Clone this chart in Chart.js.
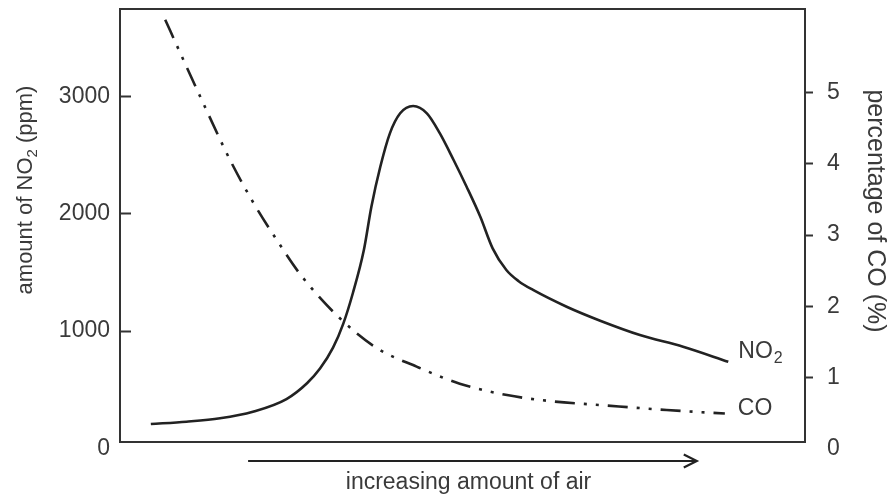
<!DOCTYPE html>
<html><head><meta charset="utf-8">
<script src="https://cdn.jsdelivr.net/npm/chart.js@4"></script>
<style>html,body{margin:0;padding:0;background:#fff}</style>
</head><body>
<canvas id="c" width="890" height="500"></canvas>
<script>
// ---- data (x = relative amount of air, 0-100) ----
const no2X = [4.5, 9.7, 14.6, 19.4, 24.3, 27.3, 29.2, 31.1, 32.6, 34.0, 35.6, 36.7, 38.0, 39.4, 40.9, 42.8, 44.8, 46.7, 48.7, 50.6, 52.6, 54.4, 56.4, 58.2, 60.3, 65.2, 70.1, 75.9, 82.2, 88.8];
const no2Y = [207, 227, 256, 312, 420, 555, 680, 858, 1063, 1324, 1690, 2060, 2400, 2685, 2856, 2918, 2856, 2685, 2458, 2230, 1974, 1705, 1520, 1425, 1350, 1207, 1088, 966, 866, 738];
const coX = [6.6, 8.8, 11.7, 16.1, 19.5, 22.9, 26.3, 32.1, 37.5, 43.3, 49.6, 56.5, 63.3, 70.1, 79.8, 88.3];
const coY = [6.03, 5.56, 4.95, 4.05, 3.45, 2.93, 2.45, 1.83, 1.41, 1.15, 0.91, 0.75, 0.66, 0.61, 0.54, 0.49];

const no2Ticks = [0, 1000, 2000, 3000];
const coTicks = [0, 1, 2, 3, 4, 5];
const no2Range = [54, 3745];
const coRange = [0.09, 6.18];
const xRange = [0, 100];
const arrowRange = [18.7, 84.2];

const seriesLabel = { no2: ['NO', '2'], co: ['CO', ''] };
const leftTitle = ['amount of NO', '2', ' (ppm)'];
const rightTitle = ['percentage of CO (%)', '', ''];
const xTitle = 'increasing amount of air';

const TEXT = '#3a3a3a', LINE = '#222', AXIS = '#333';
const FONT = '"Liberation Sans", Arial, Helvetica, sans-serif';

function drawParts(ctx, parts, size, cx, cy, rot, baseOff) {
  ctx.save();
  ctx.translate(cx, cy);
  ctx.rotate(rot);
  ctx.textBaseline = 'alphabetic';
  ctx.textAlign = 'left';
  const sub = Math.round(size * 0.68);
  ctx.font = size + 'px ' + FONT; const w0 = ctx.measureText(parts[0]).width; const w2 = ctx.measureText(parts[2]).width;
  ctx.font = sub + 'px ' + FONT; const w1 = parts[1] ? ctx.measureText(parts[1]).width : 0;
  let x = -(w0 + w1 + w2) / 2;
  const b = baseOff;
  ctx.font = size + 'px ' + FONT; ctx.fillText(parts[0], x, b); x += w0;
  if (parts[1]) { ctx.font = sub + 'px ' + FONT; ctx.fillText(parts[1], x, b + size * 0.22); x += w1; }
  ctx.font = size + 'px ' + FONT; if (parts[2]) ctx.fillText(parts[2], x, b);
  ctx.restore();
}
function drawLabel(ctx, parts, size, x, midY) {
  ctx.save();
  ctx.fillStyle = TEXT;
  ctx.textBaseline = 'middle'; ctx.textAlign = 'left';
  ctx.font = size + 'px ' + FONT;
  ctx.fillText(parts[0], x, midY);
  const w = ctx.measureText(parts[0]).width;
  if (parts[1]) { ctx.font = Math.round(size * 0.68) + 'px ' + FONT; ctx.fillText(parts[1], x + w + 1, midY + size * 0.3); }
  ctx.restore();
}

const annot = {
  id: 'annot',
  afterDraw(chart) {
    const { ctx, chartArea: ca, scales } = chart;
    ctx.save();
    ctx.fillStyle = TEXT;
    // axis titles
    drawParts(ctx, leftTitle, 22, 24, 190, -Math.PI / 2, 8);
    drawParts(ctx, rightTitle, 25, 876, 211, Math.PI / 2, 8);
    ctx.font = '23px ' + FONT; ctx.textAlign = 'center'; ctx.textBaseline = 'middle';
    ctx.fillText(xTitle, (ca.left + ca.right) / 2 + 6, ca.bottom + 41);
    // arrow
    const ax1 = scales.x.getPixelForValue(arrowRange[0]);
    const ax2 = scales.x.getPixelForValue(arrowRange[1]);
    const ay = ca.bottom + 19;
    ctx.strokeStyle = LINE; ctx.lineWidth = 2.2;
    ctx.beginPath(); ctx.moveTo(ax1, ay); ctx.lineTo(ax2, ay); ctx.stroke();
    ctx.beginPath(); ctx.moveTo(ax2 - 13, ay - 6.5); ctx.lineTo(ax2, ay); ctx.lineTo(ax2 - 13, ay + 6.5); ctx.stroke();
    // series end labels
    const m0 = chart.getDatasetMeta(0).data; const e0 = m0[m0.length - 1];
    const m1 = chart.getDatasetMeta(1).data; const e1 = m1[m1.length - 1];
    drawLabel(ctx, seriesLabel.no2, 23, e0.x + 10, e0.y - 10);
    drawLabel(ctx, seriesLabel.co, 23, e1.x + 13, e1.y - 5);
    ctx.restore();
  }
};

const tickFont = { family: FONT, size: 23 };
const tickCol = c => (c.tick && c.tick.value === 0) ? 'rgba(0,0,0,0)' : AXIS;

new Chart(document.getElementById('c'), {
  type: 'line',
  data: {
    datasets: [
      {
        label: 'NO2', yAxisID: 'yL', xAxisID: 'x',
        data: no2X.map((x, i) => ({ x, y: no2Y[i] })),
        borderColor: LINE, borderWidth: 2.6, pointRadius: 0,
        cubicInterpolationMode: 'monotone', fill: false
      },
      {
        label: 'CO', yAxisID: 'yR', xAxisID: 'x',
        data: coX.map((x, i) => ({ x, y: coY[i] })),
        borderColor: LINE, borderWidth: 2.6, pointRadius: 0,
        borderDash: [20, 9, 3, 9, 3, 9],
        cubicInterpolationMode: 'monotone', fill: false
      }
    ]
  },
  options: {
    responsive: false, animation: false, devicePixelRatio: 1,
    layout: { padding: 0 },
    plugins: { legend: { display: false }, tooltip: { enabled: false } },
    scales: {
      x: {
        type: 'linear', position: 'bottom', min: xRange[0], max: xRange[1],
        ticks: { display: false }, grid: { display: false, drawTicks: false },
        border: { display: true, color: AXIS, width: 2 },
        afterFit(s) { s.height = 58; s.paddingLeft = 0; s.paddingRight = 0; }
      },
      xTop: {
        type: 'linear', position: 'top', min: xRange[0], max: xRange[1],
        ticks: { display: false }, grid: { display: false, drawTicks: false },
        border: { display: true, color: AXIS, width: 2 },
        afterFit(s) { s.height = 9; s.paddingLeft = 0; s.paddingRight = 0; }
      },
      yL: {
        type: 'linear', position: 'left', min: no2Range[0], max: no2Range[1],
        afterBuildTicks(s) { s.ticks = no2Ticks.map(v => ({ value: v })); },
        ticks: { font: tickFont, color: TEXT, padding: 21, autoSkip: false, callback: v => String(v) },
        grid: { drawOnChartArea: false, drawTicks: true, tickLength: -11, tickWidth: 2, tickColor: tickCol },
        border: { display: true, color: AXIS, width: 2 },
        afterFit(s) { s.width = 120; s.paddingTop = 0; s.paddingBottom = 0; }
      },
      yR: {
        type: 'linear', position: 'right', min: coRange[0], max: coRange[1],
        afterBuildTicks(s) { s.ticks = coTicks.map(v => ({ value: v })); },
        ticks: { font: tickFont, color: TEXT, padding: 14, autoSkip: false, callback: v => String(v) },
        grid: { drawOnChartArea: false, drawTicks: true, tickLength: 8, tickWidth: 2, tickColor: tickCol },
        border: { display: true, color: AXIS, width: 2 },
        afterFit(s) { s.width = 85; s.paddingTop = 0; s.paddingBottom = 0; }
      }
    }
  },
  plugins: [annot]
});
</script>
</body></html>
